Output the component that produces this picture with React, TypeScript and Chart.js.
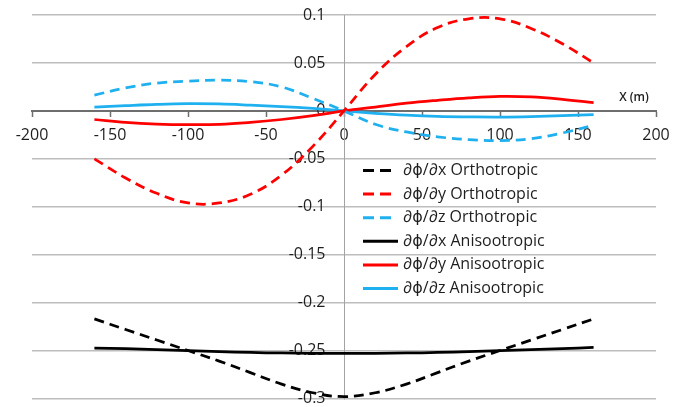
import React, { useEffect, useRef } from 'react';
import { Chart, registerables } from 'chart.js';

Chart.register(...registerables);

// ---- data ----
const xPositions = [-160, -140, -120, -100, -80, -60, -40, -20, 0, 20, 40, 60, 80, 100, 120, 140, 160];

const dxOrtho = [-0.217, -0.228, -0.239, -0.250, -0.261, -0.273, -0.285, -0.294, -0.298, -0.294, -0.285, -0.273, -0.261, -0.250, -0.239, -0.228, -0.217];
const dyOrtho = [-0.050, -0.070, -0.086, -0.096, -0.096, -0.087, -0.067, -0.037, 0, 0.038, 0.067, 0.087, 0.096, 0.096, 0.086, 0.070, 0.050];
const dzOrtho = [0.0165, 0.024, 0.029, 0.031, 0.032, 0.0305, 0.025, 0.013, 0, -0.014, -0.022, -0.027, -0.030, -0.031, -0.029, -0.023, -0.015];
const dxAniso = [-0.2475, -0.248, -0.249, -0.250, -0.251, -0.252, -0.2525, -0.253, -0.253, -0.253, -0.2525, -0.252, -0.251, -0.250, -0.249, -0.248, -0.2467];
const dyAniso = [-0.009, -0.012, -0.0137, -0.0143, -0.014, -0.012, -0.009, -0.005, 0, 0.004, 0.008, 0.011, 0.0135, 0.015, 0.0145, 0.012, 0.0085];
const dzAniso = [0.004, 0.0055, 0.0068, 0.0075, 0.0072, 0.006, 0.0045, 0.0025, 0, -0.0025, -0.0045, -0.0058, -0.0063, -0.0065, -0.006, -0.005, -0.0038];

const seriesLabels = [
  '∂ϕ/∂x Orthotropic',
  '∂ϕ/∂y Orthotropic',
  '∂ϕ/∂z Orthotropic',
  '∂ϕ/∂x Anisootropic',
  '∂ϕ/∂y Anisootropic',
  '∂ϕ/∂z Anisootropic',
];
const xAxisTitle = 'X (m)';
const xMin = -200;
const xMax = 200;
const xStep = 50;
const yMin = -0.3;
const yMax = 0.1;
const yStep = 0.05;

// ---- styles ----
const FONT = '"Open Sans", "DejaVu Sans", sans-serif';
const TEXT = '#1e1e1e';
const BLACK = '#000000';
const RED = '#ff0000';
const BLUE = '#1fb0ef';
const DASH = [10, 6];

const fmtY = (v: number) => String(Math.round(v * 100) / 100);

const overlayPlugin = {
  id: 'overlayPlugin',
  beforeDatasetsDraw(chart: any) {
    const ctx = chart.ctx;
    const ys = chart.scales.y;
    const xs = chart.scales.x;
    const x0 = xs.getPixelForValue(0);
    ctx.save();
    ctx.font = `16px ${FONT}`;
    ctx.fillStyle = TEXT;
    ctx.textAlign = 'right';
    ctx.textBaseline = 'middle';
    ys.ticks.forEach((t: any) => {
      ctx.fillText(fmtY(t.value), x0 - 18.5, ys.getPixelForValue(t.value));
    });
    ctx.restore();
  },
  afterDraw(chart: any) {
    const ctx = chart.ctx;
    const ys = chart.scales.y;
    const xs = chart.scales.x;
    const area = chart.chartArea;
    const x0 = xs.getPixelForValue(0);
    const y0 = ys.getPixelForValue(0);
    ctx.save();
    // axis title
    ctx.font = `600 12px ${FONT}`;
    ctx.fillStyle = TEXT;
    ctx.textAlign = 'center';
    ctx.textBaseline = 'middle';
    ctx.fillText(xAxisTitle, area.right - 22, y0 - 13);

    // legend
    const lx = x0 + 19;
    const top = area.top + 155.5;
    const rowH = 23.6;
    chart.data.datasets.forEach((ds: any, i: number) => {
      const y = top + i * rowH;
      const dashed = ds.borderDash && ds.borderDash.length > 0;
      ctx.save();
      ctx.strokeStyle = ds.borderColor;
      ctx.lineWidth = 3;
      ctx.setLineDash(dashed ? [11, 6] : []);
      ctx.beginPath();
      ctx.moveTo(lx, y);
      ctx.lineTo(lx + (dashed ? 28 : 35), y);
      ctx.stroke();
      ctx.restore();
      ctx.font = `16px ${FONT}`;
      ctx.fillStyle = TEXT;
      ctx.textAlign = 'left';
      ctx.textBaseline = 'middle';
      ctx.fillText(ds.label, lx + 40, y);
    });
    ctx.restore();
  },
};

export default function App() {
  const ref = useRef<HTMLCanvasElement>(null);

  useEffect(() => {
    document.body.style.margin = '0';
    const mk = (label: string, values: number[], color: string, dashed: boolean) => ({
      label,
      data: xPositions.map((x, i) => ({ x, y: values[i] })),
      borderColor: color,
      backgroundColor: color,
      borderWidth: 2.75,
      borderDash: dashed ? DASH : [],
      pointRadius: 0,
      pointHoverRadius: 0,
      tension: 0.4,
      fill: false,
    });

    const chart = new Chart(ref.current as HTMLCanvasElement, {
      type: 'line',
      data: {
        datasets: [
          mk(seriesLabels[0], dxOrtho, BLACK, true),
          mk(seriesLabels[1], dyOrtho, RED, true),
          mk(seriesLabels[2], dzOrtho, BLUE, true),
          mk(seriesLabels[3], dxAniso, BLACK, false),
          mk(seriesLabels[4], dyAniso, RED, false),
          mk(seriesLabels[5], dzAniso, BLUE, false),
        ] as any,
      },
      options: {
        animation: false,
        responsive: false,
        events: [],
        layout: { padding: { left: 32, right: 29, top: 15, bottom: 8.5 } },
        plugins: {
          legend: { display: false },
          tooltip: { enabled: false },
        },
        scales: {
          x: {
            type: 'linear',
            min: xMin,
            max: xMax,
            position: { y: 0 } as any,
            ticks: {
              stepSize: xStep,
              color: TEXT,
              font: { family: FONT, size: 16 },
              padding: 10,
              maxRotation: 0,
              autoSkip: false,
            },
            grid: {
              drawOnChartArea: false,
              drawTicks: true,
              tickLength: 5,
              tickColor: '#6e6e6e',
              tickWidth: 1.5,
            },
            border: { color: '#6e6e6e', width: 2 },
            afterFit: (s: any) => {
              s.height = 0;
            },
          },
          y: {
            type: 'linear',
            min: yMin,
            max: yMax,
            position: { x: 0 } as any,
            ticks: { stepSize: yStep, display: false },
            grid: {
              drawTicks: false,
              color: (c: any) => (c.tick && Math.abs(c.tick.value) < 1e-9 ? 'rgba(0,0,0,0)' : '#bdbdbd'),
              lineWidth: 1.5,
            },
            border: { color: '#a3a3a3', width: 1 },
            afterFit: (s: any) => {
              s.width = 0;
            },
          },
        },
      },
      plugins: [overlayPlugin],
    });
    return () => chart.destroy();
  }, []);

  return <canvas ref={ref} width={685} height={407} style={{ display: 'block' }} />;
}
